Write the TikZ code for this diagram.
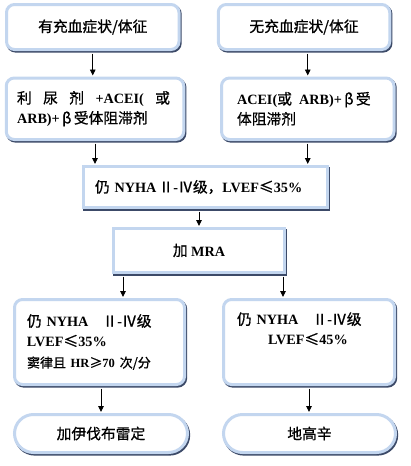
\documentclass[tikz,border=0pt]{standalone}
\usepackage{fontspec}
\setmainfont{Liberation Serif Bold}
\newfontfamily\cjk[Scale=1.04,FakeBold=0.8]{Noto Sans CJK SC}
\usetikzlibrary{arrows.meta,shadows,calc}
\definecolor{bordc}{HTML}{C3D6EF}
\definecolor{shadc}{HTML}{3C4A68}
\newcommand{\C}[1]{{\cjk #1}}
\begin{document}
\begin{tikzpicture}[x=1pt,y=-1pt,
  font=\fontsize{14.2}{20}\selectfont,
  base/.style={draw=bordc, line width=3pt, fill=white, inner ysep=0pt,
    general shadow={draw=shadc, line width=3pt, shadow xshift=1.2pt, shadow yshift=-1.6pt}},
  rbox/.style={base, rounded corners=8pt},
  sbox/.style={base},
  stad/.style={base, rounded corners=19pt},
  arr/.style={-{Triangle[width=5.5pt,length=6pt]}, line width=0.9pt, shorten <=2.5pt, shorten >=1pt}
]
\useasboundingbox (0,0) rectangle (410,466);

\node[rbox, minimum width=172.5pt, minimum height=45pt, align=center] (b1) at (92.75,27) {\C{有充血症状/体征}};
\node[rbox, minimum width=171.5pt, minimum height=45pt, align=center] (b2) at (304,27) {\C{无充血症状/体征}};

\node[rbox, minimum width=177.5pt, minimum height=61.5pt, text width=156pt, align=left] (b3) at (95,108.75)
  {\hbox to 153pt{\C{利}\hfill\C{尿}\hfill\C{剂}\hfill+ACEI(\hfill\C{或}}\\ARB)+\,\C{β}\,\C{受体阻滞剂}};
\node[rbox, minimum width=172.5pt, minimum height=61.5pt, text width=141.5pt, align=left] (b4) at (307.75,108.75)
  {ACEI(\C{或}\enspace ARB)+\,\C{β}\,\C{受}\\\C{体阻滞剂}};

\node[sbox, minimum width=244pt, minimum height=41pt, text width=220pt, align=left] (b5) at (205,187)
  {\C{仍} NYHA\,\C{Ⅱ}-\C{Ⅳ级，}LVEF\C{≤}35\%};

\node[sbox, minimum width=171pt, minimum height=44pt, align=center] (b6) at (199,250.5) {\C{加} MRA};

\node[rbox, minimum width=170pt, minimum height=85pt, text width=145pt, align=left] (b7) at (99.5,342)
  {\C{仍} NYHA\quad\C{Ⅱ}-\C{Ⅳ级}\\LVEF\C{≤}35\%\\[1pt]{\fontsize{12.5}{14}\selectfont\C{窦律且} HR\C{≥}70 \C{次/分}}};
\node[rbox, minimum width=171pt, minimum height=85pt, text width=144pt, align=left] (b8) at (309,342)
  {\C{仍} NYHA\quad\C{Ⅱ}-\C{Ⅳ级}\\\hspace*{31pt}LVEF\C{≤}45\%\\[1pt]\strut};

\node[stad, minimum width=173pt, minimum height=38pt, align=center] (b9) at (101,433.5) {\C{加伊伐布雷定}};
\node[stad, minimum width=172pt, minimum height=38pt, align=center] (b10) at (309.5,433.5) {\C{地高辛}};

\draw[arr] (b1.south) -- (b1.south |- b3.north);
\draw[arr] (b4.north |- b2.south) -- (b4.north);
\draw[arr] (b3.south) -- (b3.south |- b5.north);
\draw[arr] (b4.south) -- (b4.south |- b5.north);
\draw[arr] (b6.north |- b5.south) -- (b6.north);
\draw[arr] ([xshift=-76pt]b6.south) -- ([xshift=-76pt]b6.south |- b7.north);
\draw[arr] ([xshift=84pt]b6.south) -- ([xshift=84pt]b6.south |- b8.north);
\draw[arr] (b9.north |- b7.south) -- (b9.north);
\draw[arr] (b8.south) -- (b8.south |- b10.north);
\end{tikzpicture}
\end{document}
